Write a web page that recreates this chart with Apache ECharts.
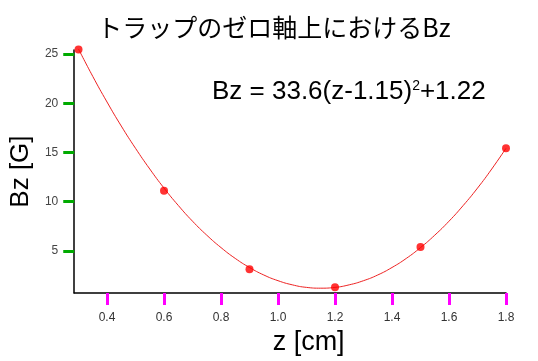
<!DOCTYPE html>
<html><head><meta charset="utf-8">
<script src="https://cdn.jsdelivr.net/npm/echarts@6/dist/echarts.min.js"></script>
<style>html,body{margin:0;padding:0;background:#fff}#c{width:538px;height:361px}</style>
</head><body><div id="c"></div>
<script>
const titleText = 'トラップのゼロ軸上におけるBz';
const xName = 'z [cm]';
const yName = 'Bz [G]';
const xMin = 0.285, xMax = 1.8, yMin = 0.72, yMax = 25.4;
const xTicks = [0.4, 0.6, 0.8, 1.0, 1.2, 1.4, 1.6, 1.8];
const yTicks = [5, 10, 15, 20, 25];
const measZ = [0.3, 0.6, 0.9, 1.2, 1.5, 1.8];
const measB = [25.45, 11.1, 3.15, 1.32, 5.4, 15.42];
const fitZ = [0.30,0.35,0.40,0.45,0.50,0.55,0.60,0.65,0.70,0.75,0.80,0.85,0.90,0.95,1.00,1.05,1.10,1.15,1.20,1.25,1.30,1.35,1.40,1.45,1.50,1.55,1.60,1.65,1.70,1.75,1.80];
const fitB = [25.50,22.72,20.12,17.68,15.42,13.32,11.38,9.62,8.02,6.60,5.34,4.24,3.32,2.56,1.98,1.56,1.30,1.22,1.30,1.56,1.98,2.56,3.32,4.24,5.34,6.60,8.02,9.62,11.38,13.32,15.42];

const chart = echarts.init(document.getElementById('c'), null, {renderer: 'canvas'});
chart.setOption({
  animation: false,
  backgroundColor: '#fff',
  title: {
    text: titleText, left: 269, top: 10, textAlign: 'center',
    textStyle: {fontFamily: '"Noto Sans CJK JP", sans-serif', fontSize: 25, fontWeight: 'normal', color: '#000'}
  },
  graphic: [{
    type: 'text', left: 212, top: 79,
    style: {
      text: '{a|Bz = 33.6(z-1.15)}{s|2}{a|+1.22}',
      rich: {
        a: {fontFamily: '"Liberation Sans", Arial, sans-serif', fontSize: 26, fill: '#000'},
        s: {fontFamily: '"Liberation Sans", Arial, sans-serif', fontSize: 14, fill: '#000', verticalAlign: 'top', padding: [0,0,12,0]}
      }
    }
  }],
  grid: {left: 71, right: 32, top: 50, bottom: 65},
  xAxis: {
    type: 'value', min: xMin, max: xMax,
    name: xName, nameLocation: 'middle', nameGap: 34,
    nameTextStyle: {fontFamily: '"Liberation Sans", Arial, sans-serif', fontSize: 27, color: '#000', padding: [0,0,0,37]},
    axisLine: {show: true, lineStyle: {color: '#000', width: 1.5}},
    axisTick: {show: true, customValues: xTicks, length: 12, lineStyle: {color: '#ff00ff', width: 3}},
    axisLabel: {customValues: xTicks, formatter: v => v.toFixed(1), margin: 19,
      fontFamily: '"Liberation Sans Narrow", "Liberation Sans", sans-serif', fontSize: 12, color: '#333'},
    splitLine: {show: false}
  },
  yAxis: {
    type: 'value', min: yMin, max: yMax,
    name: yName, nameLocation: 'middle', nameGap: 38, nameRotate: 90,
    nameTextStyle: {fontFamily: '"Liberation Sans", Arial, sans-serif', fontSize: 26, color: '#000'},
    axisLine: {show: true, lineStyle: {color: '#000', width: 1.5}},
    axisTick: {show: true, customValues: yTicks, length: 11, lineStyle: {color: '#00aa00', width: 3}},
    axisLabel: {customValues: yTicks, margin: 16,
      fontFamily: '"Liberation Sans Narrow", "Liberation Sans", sans-serif', fontSize: 12, color: '#444'},
    splitLine: {show: false}
  },
  series: [
    {type: 'line', data: fitZ.map((z, i) => [z, fitB[i]]), smooth: true, showSymbol: false, clip: false,
     lineStyle: {color: '#ee2222', width: 1}, z: 2},
    {type: 'scatter', data: measZ.map((z, i) => [z, measB[i]]), symbol: 'circle', symbolSize: 8, clip: false,
     itemStyle: {color: '#ff0000'}, z: 3}
  ]
});
</script></body></html>
